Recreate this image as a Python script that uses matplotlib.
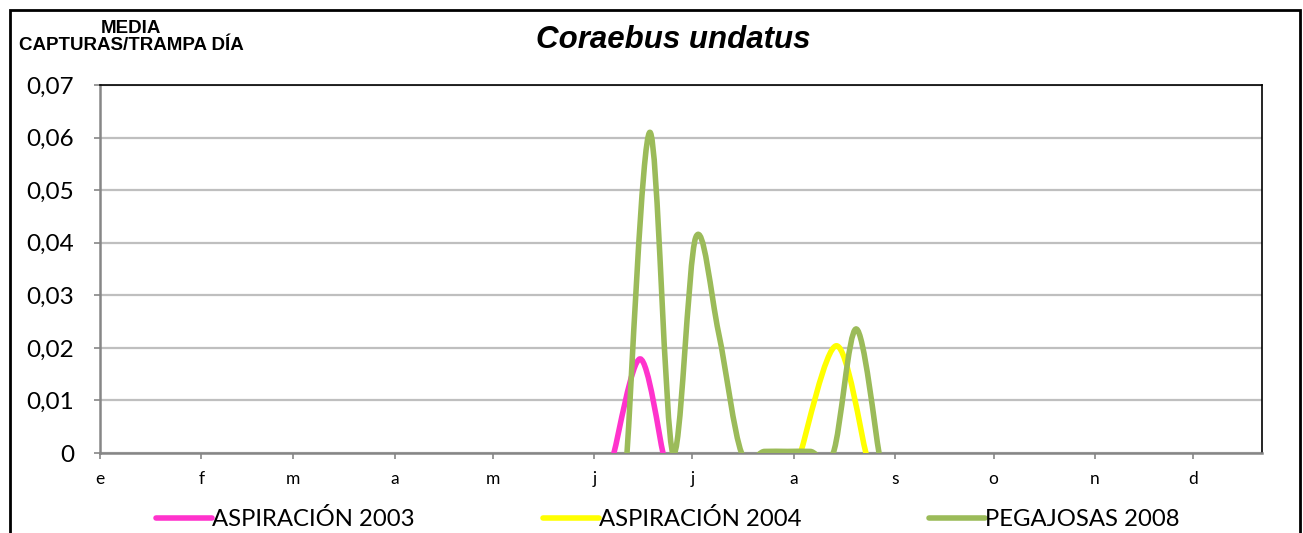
import numpy as np
import matplotlib
matplotlib.use("Agg")
import matplotlib.pyplot as plt
from matplotlib.path import Path
from matplotlib.patches import PathPatch, Rectangle
from matplotlib.lines import Line2D
from matplotlib.ticker import FuncFormatter

# ---------- data (day of year, media capturas/trampa dia) ----------
month_labels = ['e', 'f', 'm', 'a', 'm', 'j', 'j', 'a', 's', 'o', 'n', 'd']
month_starts = [0, 31, 59, 90, 120, 151, 181, 212, 243, 273, 304, 334]

asp2003_days = [157, 165, 172]
asp2003_vals = [0.0, 0.0179, 0.0]

asp2004_days = [214, 225, 234]
asp2004_vals = [0.0, 0.0204, 0.0]

peg2008_days = [161, 168, 175, 182, 189, 196, 203, 210, 217, 224, 231, 238]
peg2008_vals = [0.0, 0.061, 0.0, 0.041, 0.0228, 0.0, 0.0003, 0.0003, 0.0003, 0.0, 0.0236, 0.0]

series = [
    ("ASPIRACIÓN 2003", asp2003_days, asp2003_vals, "#FF33CC"),
    ("ASPIRACIÓN 2004", asp2004_days, asp2004_vals, "#FFFF00"),
    ("PEGAJOSAS 2008", peg2008_days, peg2008_vals, "#9BBB59"),
]

LW = 4.0


def smooth_path(xs, ys):
    # Excel-like smoothed line: cubic bezier through the points
    p = np.column_stack([xs, ys]).astype(float)
    n = len(p)
    verts = [p[0]]
    codes = [Path.MOVETO]
    for i in range(n - 1):
        p0 = p[i - 1] if i > 0 else p[i]
        p3 = p[i + 2] if i + 2 < n else p[i + 1]
        c1 = p[i] + (p[i + 1] - p0) / 6.0
        c2 = p[i + 1] - (p3 - p[i]) / 6.0
        verts += [c1, c2, p[i + 1]]
        codes += [Path.CURVE4] * 3
    return Path(verts, codes)


fig = plt.figure(figsize=(13.03, 5.33), dpi=100)
ax = fig.add_axes([100 / 1303, 1 - 453 / 533, 1162 / 1303, 368 / 533])

for label, xs, ys, color in series:
    patch = PathPatch(smooth_path(xs, ys), facecolor='none', edgecolor=color,
                      lw=LW, capstyle='round', joinstyle='round', zorder=3)
    ax.add_patch(patch)

ax.set_xlim(0, 355)
ax.set_ylim(0, 0.07)
ax.set_yticks(np.arange(0, 0.0701, 0.01))
ax.yaxis.set_major_formatter(FuncFormatter(lambda v, p: "0" if v == 0 else f"{v:.2f}".replace('.', ',')))
ax.set_xticks(month_starts)
ax.set_xticklabels(month_labels)

ax.grid(axis='y', color='#BFBFBF', lw=1.6, zorder=0)
ax.set_axisbelow(True)

for s in ['top', 'right']:
    ax.spines[s].set_color('black')
    ax.spines[s].set_linewidth(1.2)
for s in ['left', 'bottom']:
    ax.spines[s].set_color('#868686')
    ax.spines[s].set_linewidth(1.8)

ax.tick_params(axis='y', colors='#868686', length=4.5, width=1.2, pad=14,
               labelcolor='black', labelsize=17.5)
ax.tick_params(axis='x', colors='#868686', length=4, width=1.2, pad=9,
               labelcolor='black', labelsize=12.5)
for t in ax.get_yticklabels() + ax.get_xticklabels():
    t.set_fontfamily('Lato')

# titles
fig.text(673 / 1303, 1 - 40 / 533, "Coraebus undatus", ha='center', va='center',
         fontsize=22.5, fontweight='bold', fontstyle='italic', family='Liberation Sans')
fig.text(131 / 1303, 1 - 37 / 533, "MEDIA\nCAPTURAS/TRAMPA DÍA", ha='center', va='center',
         fontsize=13.5, fontweight='bold', family='Liberation Sans', linespacing=1.05)

# legend
handles = [Line2D([], [], color=c, lw=LW, solid_capstyle='round') for _, _, _, c in series]
labels = [s[0] for s in series]
fig.legend(handles, labels, loc='center', bbox_to_anchor=(668 / 1303, 1 - 519 / 533),
           ncol=3, frameon=False, handlelength=2.35, handletextpad=0.0,
           columnspacing=5.35, prop={'family': 'Lato', 'size': 17.2})

# outer chart frame
fig.patches.append(Rectangle((10 / 1303, -0.1), 1290 / 1303, 1.1 - 10 / 533,
                             transform=fig.transFigure, fill=False,
                             edgecolor='black', lw=2.0))

fig.savefig("out.png", dpi=100)
